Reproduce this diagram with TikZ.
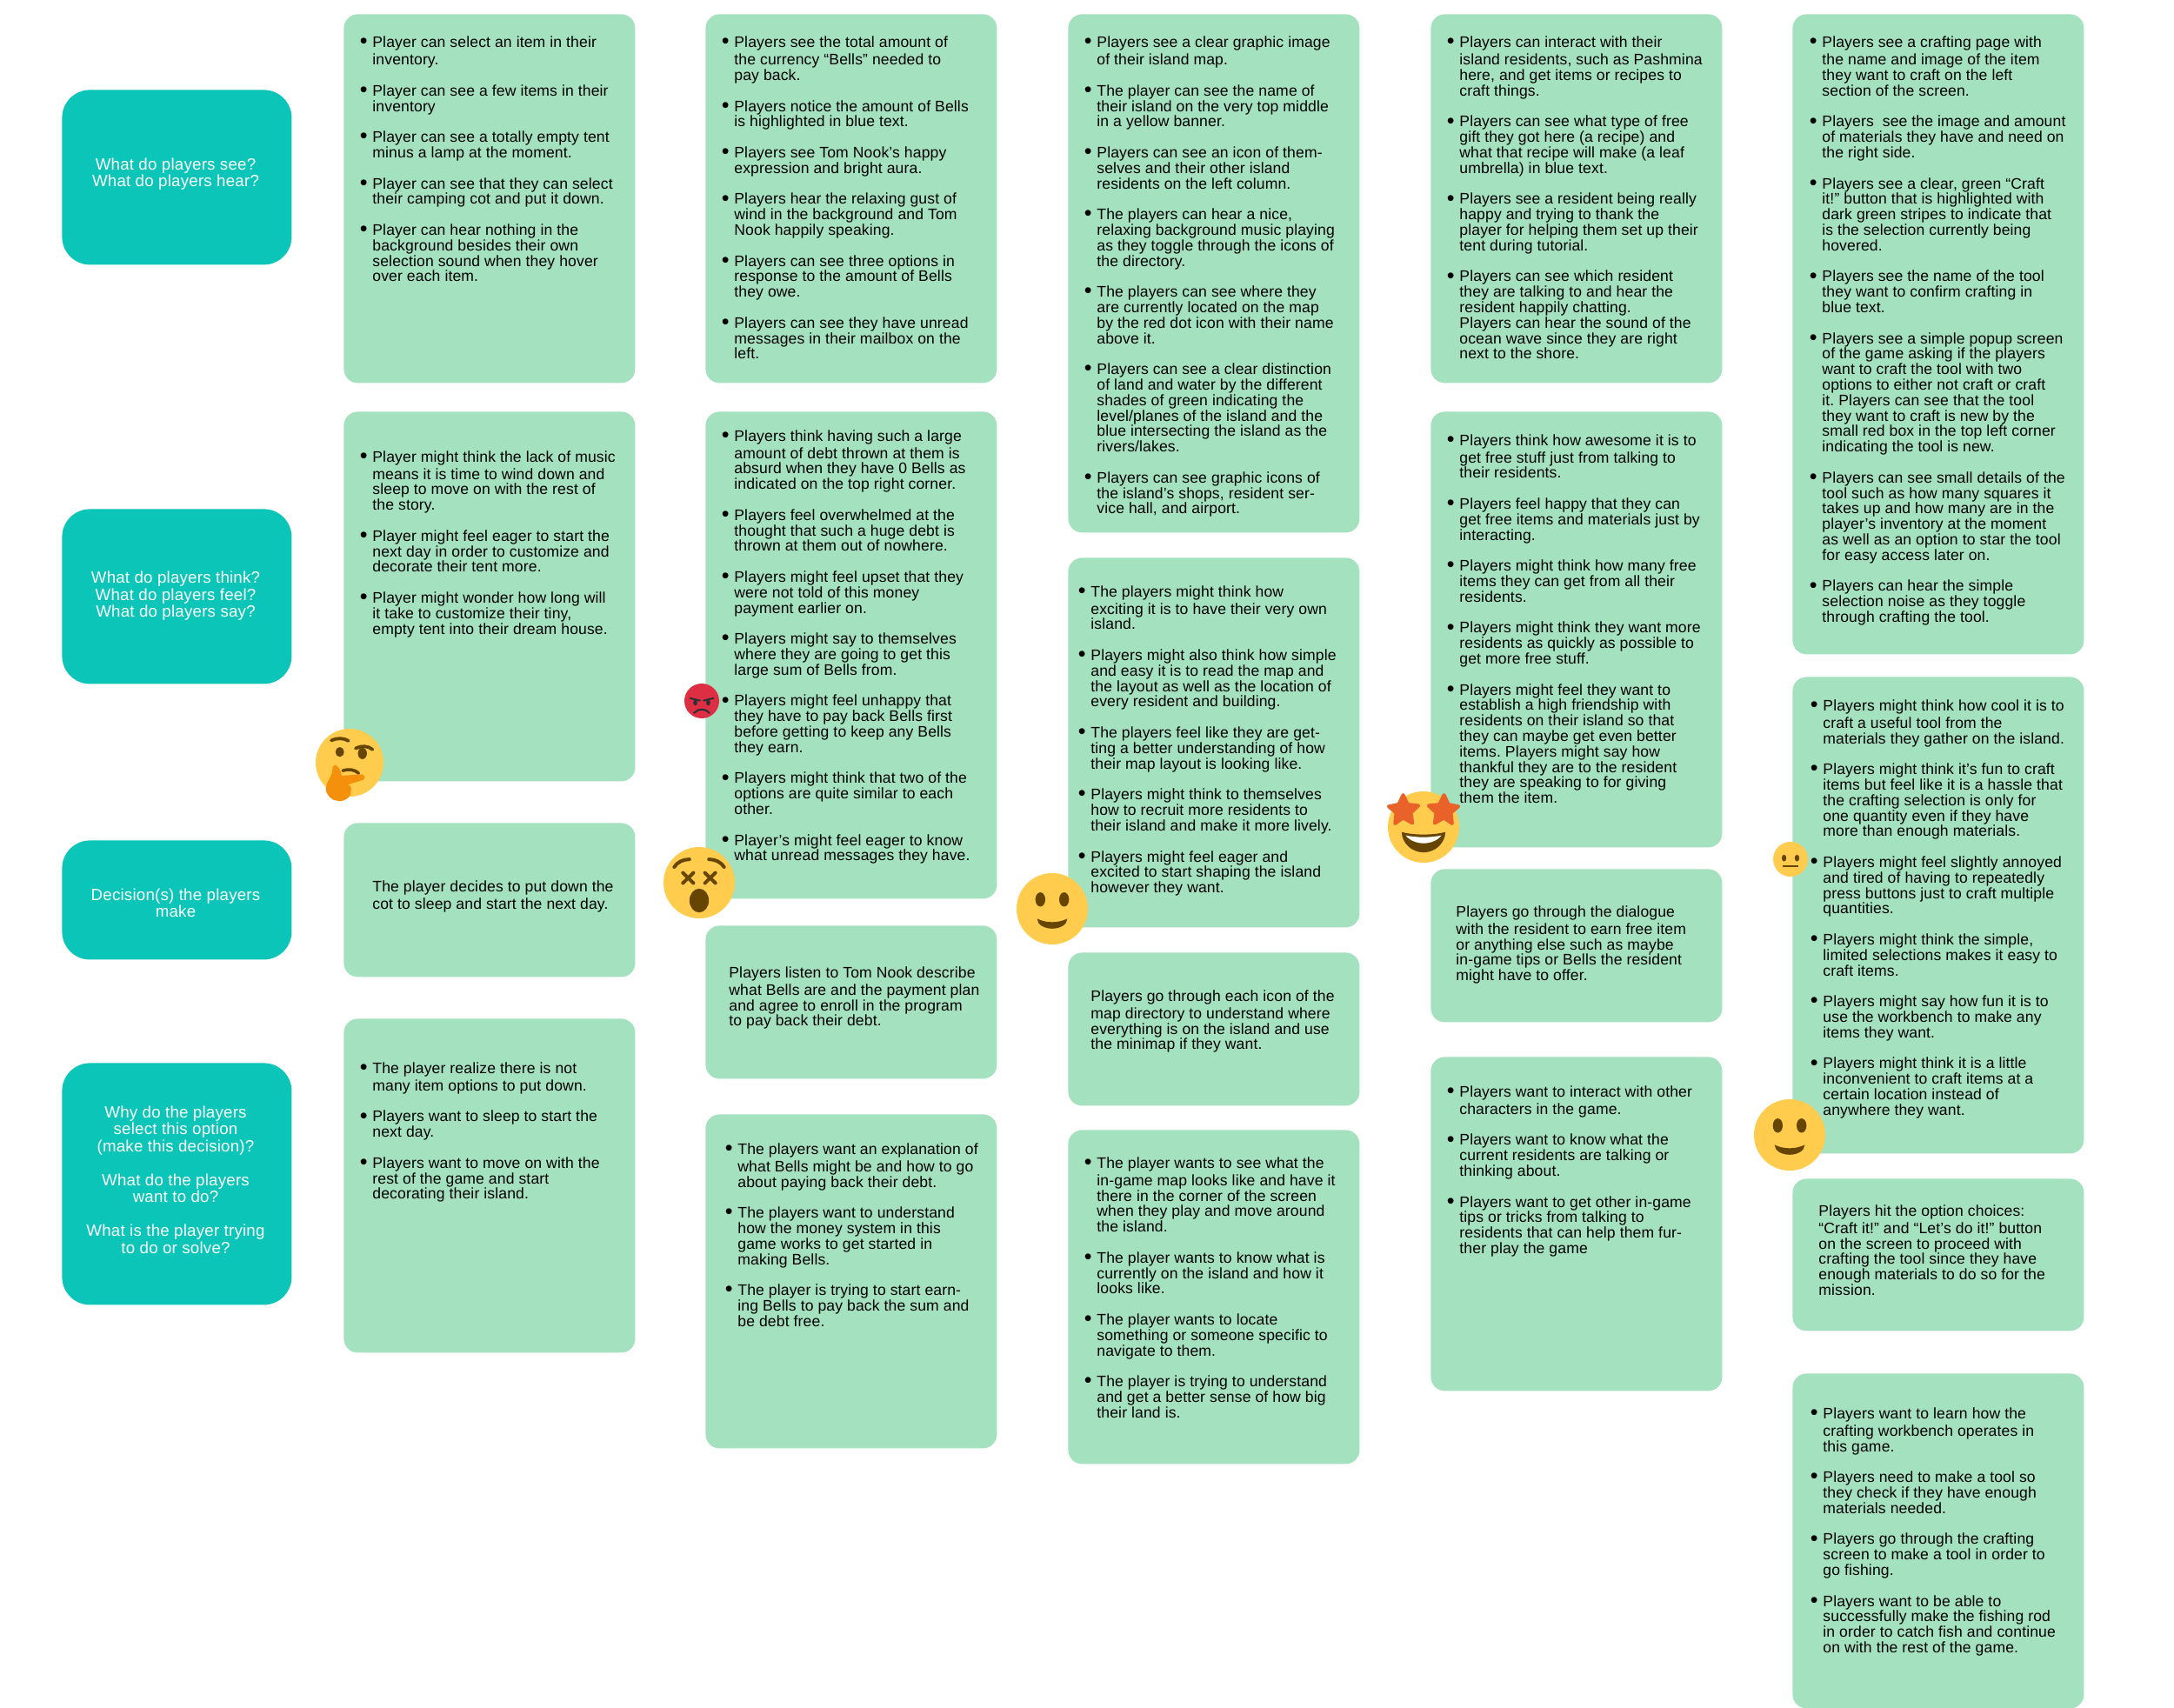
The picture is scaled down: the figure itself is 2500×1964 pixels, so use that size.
\documentclass[tikz,border=0pt]{standalone}
\usepackage{fontspec}
\setmainfont[LetterSpace=0.8]{Liberation Sans}
\frenchspacing
\definecolor{cardcol}{HTML}{A3E1BF}
\definecolor{headcol}{HTML}{0BC5B8}
\definecolor{facecol}{HTML}{FFCC4D}
\definecolor{browcol}{HTML}{664500}
\definecolor{angrycol}{HTML}{DD2E44}
\definecolor{darkcol}{HTML}{292F33}
\definecolor{starcol}{HTML}{E9622A}
\definecolor{handcol}{HTML}{F4900C}
\newcommand\bl{\makebox[0pt][r]{\raisebox{-0.6pt}{\fontsize{12.5pt}{12.5pt}\selectfont •}\hspace{2.9pt}}}
\newcommand\gp{\\[8.9pt]}
\tikzset{
  x=0.5pt,y=-0.5pt,
  card/.style={fill=cardcol,draw=none,rounded corners=8pt,anchor=north west,inner sep=0pt,minimum width=167.5pt},
  head/.style={fill=headcol,draw=none,rounded corners=16pt,anchor=north west,inner sep=0pt,minimum width=132pt},
  txt/.style={anchor=north west,inner sep=0pt,align=left,text=black,font=\fontsize{8.78pt}{8.9pt}\selectfont\frenchspacing},
  headtxt/.style={anchor=center,inner sep=0pt,align=center,text=white,font=\addfontfeatures{LetterSpace=1.2}\fontsize{9.35pt}{9.75pt}\selectfont},
  face/.style={fill=facecol,draw=none},
  brown/.style={fill=browcol,draw=none},
  brow/.style={draw=browcol,line cap=round,fill=none},
}
\newcommand\card[4]{\node[card,minimum height={(#4-#3)*0.5}] (#1) at (#2,#3) {};}
\newcommand\ctxt[4]{\node[txt] (#1) at (#2,#3) {\strut #4};}
\newcommand\hdr[4]{\node[head,minimum height={(#3-#2)*0.5}] (#1) at (71,#2) {};}
\newcommand\htxt[3]{\node[headtxt] (#1) at (202,#2) {#3};}
\begin{document}
\begin{tikzpicture}
\useasboundingbox (0,0) rectangle (2500,1964);
% headers
\hdr{h1}{103}{304}{}
\hdr{h2}{585}{786}{}
\hdr{h3}{966}{1103}{}
\hdr{h4}{1222}{1500}{}
\htxt{ht1}{200}{What do players see?\\What do players hear?}
\htxt{ht2}{685.5}{What do players think?\\What do players feel?\\What do players say?}
\htxt{ht3}{1038.5}{Decision(s) the players\\make}
\htxt{ht4}{1356.5}{Why do the players\\select this option\\(make this decision)?\\[9.75pt]What do the players\\want to do?\\[9.75pt]What is the player trying\\to do or solve?}
% cards
\card{a1}{395}{16}{440}
\card{a2}{395}{473}{898}
\card{a3}{395}{946}{1123}
\card{a4}{395}{1171}{1555}
\card{b1}{811}{16}{440}
\card{b2}{811}{473}{1033}
\card{b3}{811}{1064}{1240}
\card{b4}{811}{1281}{1665}
\card{c1}{1228}{16}{612}
\card{c2}{1228}{641}{1066}
\card{c3}{1228}{1095}{1271}
\card{c4}{1228}{1299}{1683}
\card{d1}{1645}{16}{440}
\card{d2}{1645}{473}{974}
\card{d3}{1645}{999}{1175}
\card{d4}{1645}{1215}{1599}
\card{e1}{2061}{16}{752}
\card{e2}{2061}{778}{1326}
\card{e3}{2061}{1355}{1530}
\card{e4}{2061}{1579}{1964}
% texts
\ctxt{ta1}{428}{41.6}{\bl Player can select an item in their\\inventory.\gp
\bl Player can see a few items in their\\inventory\gp
\bl Player can see a totally empty tent\\minus a lamp at the moment.\gp
\bl Player can see that they can select\\their camping cot and put it down.\gp
\bl Player can hear nothing in the\\background besides their own\\selection sound when they hover\\over each item.}
\ctxt{ta2}{428}{518}{\bl Player might think the lack of music\\means it is time to wind down and\\sleep to move on with the rest of\\the story.\gp
\bl Player might feel eager to start the\\next day in order to customize and\\decorate their tent more.\gp
\bl Player might wonder how long will\\it take to customize their tiny,\\empty tent into their dream house.}
\ctxt{ta3}{428}{1012.4}{The player decides to put down the\\cot to sleep and start the next day.}
\ctxt{ta4}{428}{1221}{\bl The player realize there is not\\many item options to put down.\gp
\bl Players want to sleep to start the\\next day.\gp
\bl Players want to move on with the\\rest of the game and start\\decorating their island.}
\ctxt{tb1}{844}{41.6}{\bl Players see the total amount of\\the currency “Bells” needed to\\pay back.\gp
\bl Players notice the amount of Bells\\is highlighted in blue text.\gp
\bl Players see Tom Nook’s happy\\expression and bright aura.\gp
\bl Players hear the relaxing gust of\\wind in the background and Tom\\Nook happily speaking.\gp
\bl Players can see three options in\\response to the amount of Bells\\they owe.\gp
\bl Players can see they have unread\\messages in their mailbox on the\\left.}
\ctxt{tb2}{844}{494}{\bl Players think having such a large\\amount of debt thrown at them is\\absurd when they have 0 Bells as\\indicated on the top right corner.\gp
\bl Players feel overwhelmed at the\\thought that such a huge debt is\\thrown at them out of nowhere.\gp
\bl Players might feel upset that they\\were not told of this money\\payment earlier on.\gp
\bl Players might say to themselves\\where they are going to get this\\large sum of Bells from.\gp
\bl Players might feel unhappy that\\they have to pay back Bells first\\before getting to keep any Bells\\they earn.\gp
\bl Players might think that two of the\\options are quite similar to each\\other.\gp
\bl Player’s might feel eager to know\\what unread messages they have.}
\ctxt{tb3}{838}{1111}{Players listen to Tom Nook describe\\what Bells are and the payment plan\\and agree to enroll in the program\\to pay back their debt.}
\ctxt{tb4}{848}{1314}{\bl The players want an explanation of\\what Bells might be and how to go\\about paying back their debt.\gp
\bl The players want to understand\\how the money system in this\\game works to get started in\\making Bells.\gp
\bl The player is trying to start earn-\\ing Bells to pay back the sum and\\be debt free.}
\ctxt{tc1}{1261}{41.6}{\bl Players see a clear graphic image\\of their island map.\gp
\bl The player can see the name of\\their island on the very top middle\\in a yellow banner.\gp
\bl Players can see an icon of them-\\selves and their other island\\residents on the left column.\gp
\bl The players can hear a nice,\\relaxing background music playing\\as they toggle through the icons of\\the directory.\gp
\bl The players can see where they\\are currently located on the map\\by the red dot icon with their name\\above it.\gp
\bl Players can see a clear distinction\\of land and water by the different\\shades of green indicating the\\level/planes of the island and the\\blue intersecting the island as the\\rivers/lakes.\gp
\bl Players can see graphic icons of\\the island’s shops, resident ser-\\vice hall, and airport.}
\ctxt{tc2}{1254}{673}{\bl The players might think how\\exciting it is to have their very own\\island.\gp
\bl Players might also think how simple\\and easy it is to read the map and\\the layout as well as the location of\\every resident and building.\gp
\bl The players feel like they are get-\\ting a better understanding of how\\their map layout is looking like.\gp
\bl Players might think to themselves\\how to recruit more residents to\\their island and make it more lively.\gp
\bl Players might feel eager and\\excited to start shaping the island\\however they want.}
\ctxt{tc3}{1254}{1138}{Players go through each icon of the\\map directory to understand where\\everything is on the island and use\\the minimap if they want.}
\ctxt{tc4}{1261}{1330}{\bl The player wants to see what the\\in-game map looks like and have it\\there in the corner of the screen\\when they play and move around\\the island.\gp
\bl The player wants to know what is\\currently on the island and how it\\looks like.\gp
\bl The player wants to locate\\something or someone specific to\\navigate to them.\gp
\bl The player is trying to understand\\and get a better sense of how big\\their land is.}
\ctxt{td1}{1678}{41.6}{\bl Players can interact with their\\island residents, such as Pashmina\\here, and get items or recipes to\\craft things.\gp
\bl Players can see what type of free\\gift they got here (a recipe) and\\what that recipe will make (a leaf\\umbrella) in blue text.\gp
\bl Players see a resident being really\\happy and trying to thank the\\player for helping them set up their\\tent during tutorial.\gp
\bl Players can see which resident\\they are talking to and hear the\\resident happily chatting.\\Players can hear the sound of the\\ocean wave since they are right\\next to the shore.}
\ctxt{td2}{1678}{499}{\bl Players think how awesome it is to\\get free stuff just from talking to\\their residents.\gp
\bl Players feel happy that they can\\get free items and materials just by\\interacting.\gp
\bl Players might think how many free\\items they can get from all their\\residents.\gp
\bl Players might think they want more\\residents as quickly as possible to\\get more free stuff.\gp
\bl Players might feel they want to\\establish a high friendship with\\residents on their island so that\\they can maybe get even better\\items. Players might say how\\thankful they are to the resident\\they are speaking to for giving\\them the item.}
\ctxt{td3}{1674}{1041}{Players go through the dialogue\\with the resident to earn free item\\or anything else such as maybe\\in-game tips or Bells the resident\\might have to offer.}
\ctxt{td4}{1678}{1248}{\bl Players want to interact with other\\characters in the game.\gp
\bl Players want to know what the\\current residents are talking or\\thinking about.\gp
\bl Players want to get other in-game\\tips or tricks from talking to\\residents that can help them fur-\\ther play the game}
\ctxt{te1}{2095}{41.6}{\bl Players see a crafting page with\\the name and image of the item\\they want to craft on the left\\section of the screen.\gp
\bl Players\ \ see the image and amount\\of materials they have and need on\\the right side.\gp
\bl Players see a clear, green “Craft\\it!” button that is highlighted with\\dark green stripes to indicate that\\is the selection currently being\\hovered.\gp
\bl Players see the name of the tool\\they want to confirm crafting in\\blue text.\gp
\bl Players see a simple popup screen\\of the game asking if the players\\want to craft the tool with two\\options to either not craft or craft\\it. Players can see that the tool\\they want to craft is new by the\\small red box in the top left corner\\indicating the tool is new.\gp
\bl Players can see small details of the\\tool such as how many squares it\\takes up and how many are in the\\player’s inventory at the moment\\as well as an option to star the tool\\for easy access later on.\gp
\bl Players can hear the simple\\selection noise as they toggle\\through crafting the tool.}
\ctxt{te2}{2096}{804}{\bl Players might think how cool it is to\\craft a useful tool from the\\materials they gather on the island.\gp
\bl Players might think it’s fun to craft\\items but feel like it is a hassle that\\the crafting selection is only for\\one quantity even if they have\\more than enough materials.\gp
\bl Players might feel slightly annoyed\\and tired of having to repeatedly\\press buttons just to craft multiple\\quantities.\gp
\bl Players might think the simple,\\limited selections makes it easy to\\craft items.\gp
\bl Players might say how fun it is to\\use the workbench to make any\\items they want.\gp
\bl Players might think it is a little\\inconvenient to craft items at a\\certain location instead of\\anywhere they want.}
\ctxt{te3}{2091}{1385}{Players hit the option choices:\\“Craft it!” and “Let’s do it!” button\\on the screen to proceed with\\crafting the tool since they have\\enough materials to do so for the\\mission.}
\ctxt{te4}{2096}{1618}{\bl Players want to learn how the\\crafting workbench operates in\\this game.\gp
\bl Players need to make a tool so\\they check if they have enough\\materials needed.\gp
\bl Players go through the crafting\\screen to make a tool in order to\\go fishing.\gp
\bl Players want to be able to\\successfully make the fishing rod\\in order to catch fish and continue\\on with the rest of the game.}
% thinking face
\begin{scope}[shift={(402,877)},scale=2.167]
\fill[face] (0,0) circle (18);
\draw[brow,line width=1.9pt] (-9.7,-11.8) .. controls (-7,-13.2) and (-3,-13.2) .. (-0.6,-11.6);
\draw[brow,line width=1.9pt] (3.2,-7.6) .. controls (6,-9.2) and (10,-9) .. (12.2,-7);
\fill[brown] (-5.2,-5.7) ellipse [x radius=2.3,y radius=2.6];
\fill[brown] (6.8,-4.9) ellipse [x radius=2.4,y radius=3];
\draw[brow,line width=1.8pt] (-3.6,4.2) .. controls (-1,3.2) and (3,3.6) .. (4.8,5.6);
\fill[handcol] (-8.9,2.2) .. controls (-8.7,1) and (-7.2,0.9) .. (-6.4,2) .. controls (-5,3.4) and (-4.4,5) .. (-4.2,6.9) -- (6.4,6.2) .. controls (8.2,6.2) and (8.6,8.6) .. (7,9.2) -- (-0.8,11.6) .. controls (0.8,12) and (1.2,14.5) .. (0.6,15.2) .. controls (1,17) and (0,18) .. (-1,18.8) .. controls (-3,20.2) and (-5,20.8) .. (-6.5,20.2) .. controls (-10,19.8) and (-12.6,17) .. (-12.6,13.5) .. controls (-12.6,10.5) and (-9.2,8) .. (-8.9,2.2) -- cycle;
\end{scope}
% angry face
\begin{scope}[shift={(807,806)},scale=1.111]
\fill[angrycol] (0,0) circle (18);
\fill[darkcol] (-6.7,1.8) ellipse [x radius=2.1,y radius=3];
\fill[darkcol] (6.7,1.8) ellipse [x radius=2.1,y radius=3];
\draw[darkcol,line width=1pt,line cap=round] (-12,-2.8) -- (-2,-0.4);
\draw[darkcol,line width=1pt,line cap=round] (12,-2.8) -- (2,-0.4);
\draw[darkcol,line width=1pt,line cap=round] (-8,12.5) .. controls (-4,7.5) and (4,7.5) .. (8,12.5);
\end{scope}
% dizzy face
\begin{scope}[shift={(804,1015)},scale=2.278]
\fill[face] (0,0) circle (18);
\draw[brow,line width=2pt] (-12.6,-7.9) .. controls (-11,-10.5) and (-8,-11.8) .. (-4.9,-11.8);
\draw[brow,line width=2pt] (12.6,-7.9) .. controls (11,-10.5) and (8,-11.8) .. (4.9,-11.8);
\draw[brow,line width=2pt] (-8.2,-5) -- (-2.9,0.2) (-2.9,-5) -- (-8.2,0.2);
\draw[brow,line width=2pt] (8.2,-5) -- (2.9,0.2) (2.9,-5) -- (8.2,0.2);
\fill[brown] (0,9) ellipse [x radius=4.9,y radius=6];
\end{scope}
% smiling faces
\begin{scope}[shift={(1210,1045)},scale=2.278]
\fill[face] (0,0) circle (18);
\fill[brown] (-6,-4.7) ellipse [x radius=2.5,y radius=3.6];
\fill[brown] (6,-4.7) ellipse [x radius=2.5,y radius=3.6];
\fill[brown] (-7.6,5) .. controls (-3,7.3) and (3,7.3) .. (7.6,5) .. controls (7.6,8) and (4,10) .. (0,10) .. controls (-4,10) and (-7.6,8) .. (-7.6,5) -- cycle;
\end{scope}
\begin{scope}[shift={(2058,1305)},scale=2.278]
\fill[face] (0,0) circle (18);
\fill[brown] (-6,-4.7) ellipse [x radius=2.5,y radius=3.6];
\fill[brown] (6,-4.7) ellipse [x radius=2.5,y radius=3.6];
\fill[brown] (-7.6,5) .. controls (-3,7.3) and (3,7.3) .. (7.6,5) .. controls (7.6,8) and (4,10) .. (0,10) .. controls (-4,10) and (-7.6,8) .. (-7.6,5) -- cycle;
\end{scope}
% star-struck face
\begin{scope}[shift={(1637,951)},scale=2.278]
\fill[face] (0,0) circle (18);
\fill[draw=starcol,fill=starcol,line width=2pt,line join=round]
 (-10.3,-16.2) -- (-8,-11.4) -- (-2.6,-10.8) -- (-6.4,-7.2) -- (-5.6,-2) -- (-10.3,-4.6) -- (-14.4,-1.8) -- (-13.8,-7.2) -- (-17.6,-10.4) -- (-12.6,-11.4) -- cycle;
\fill[draw=starcol,fill=starcol,line width=2pt,line join=round]
 (10.3,-16.2) -- (8,-11.4) -- (2.6,-10.8) -- (6.4,-7.2) -- (5.6,-2) -- (10.3,-4.6) -- (14.4,-1.8) -- (13.8,-7.2) -- (17.6,-10.4) -- (12.6,-11.4) -- cycle;
\fill[brown] (-11,2.5) .. controls (-5,4.2) and (5,4.2) .. (11,2.5) .. controls (11,8) and (6,12.8) .. (0,12.8) .. controls (-6,12.8) and (-11,8) .. (-11,2.5) -- cycle;
\fill[white] (-9,4.2) .. controls (-4,5.4) and (4,5.4) .. (9,4.2) .. controls (7,7) and (3,8.2) .. (0,8.2) .. controls (-3,8.2) and (-7,7) .. (-9,4.2) -- cycle;
\end{scope}
% neutral face
\begin{scope}[shift={(2059,988)},scale=1.111]
\fill[face] (0,0) circle (18);
\fill[brown] (-6.7,-1.2) ellipse [x radius=2.4,y radius=3.5];
\fill[brown] (6.7,-1.2) ellipse [x radius=2.4,y radius=3.5];
\draw[browcol,line width=0.85pt] (-8,7.3) -- (8,7.3);
\end{scope}
\end{tikzpicture}
\end{document}
